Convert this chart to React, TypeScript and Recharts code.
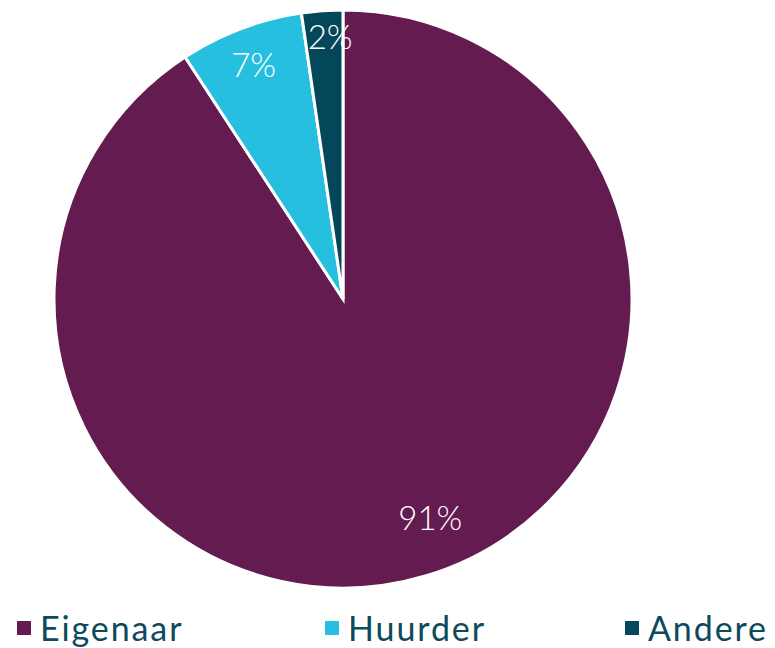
import React from 'react';
import { PieChart, Pie, Cell, Legend } from 'recharts';

const categories = ['Eigenaar', 'Huurder', 'Andere'];
const shares = [90.8, 6.9, 2.3];
const labels = ['91%', '7%', '2%'];
const colors = ['#641b50', '#27bfdf', '#05475a'];

const data = categories.map((name, i) => ({ name, value: shares[i], label: labels[i] }));

// how far inside the rim each label sits, plus small nudges
const labelInset = [60, 39, 28];
const labelNudge = [
  [22, -2],
  [-1, -1],
  [6, -3],
];
const RAD = Math.PI / 180;

const renderLabel = (props: any) => {
  const { cx, cy, midAngle, outerRadius, index } = props;
  const r = outerRadius - labelInset[index];
  const x = cx + r * Math.cos(-midAngle * RAD) + labelNudge[index][0];
  const y = cy + r * Math.sin(-midAngle * RAD) + labelNudge[index][1];
  return (
    <text
      x={x}
      y={y}
      fill="#fff"
      textAnchor="middle"
      dominantBaseline="central"
      fontSize={33}
      fontWeight={300}
      fontFamily="Lato, sans-serif"
    >
      {labels[index]}
    </text>
  );
};

const legendX = [17, 325, 625];

const renderLegend = () => (
  <div style={{ position: 'relative', height: 40 }}>
    {categories.map((c, i) => (
      <div
        key={c}
        style={{
          position: 'absolute',
          left: legendX[i],
          top: 0,
          display: 'flex',
          alignItems: 'center',
          fontFamily: 'Lato, sans-serif',
          fontSize: 34,
          letterSpacing: 1.9,
          color: '#0c4a5c',
          lineHeight: '40px',
        }}
      >
        <span style={{ width: 14, height: 14, background: colors[i], marginRight: 9, display: 'inline-block' }} />
        {c}
      </div>
    ))}
  </div>
);

export default function App() {
  return (
    <div style={{ position: 'absolute', left: 0, top: 0, width: 775, height: 648, background: '#fff' }}>
      <PieChart width={775} height={648} margin={{ top: 0, right: 0, bottom: 0, left: 0 }}>
        <Pie
          data={data}
          dataKey="value"
          nameKey="name"
          cx={343}
          cy={299}
          outerRadius={289}
          startAngle={90}
          endAngle={-270}
          stroke="#fff"
          strokeWidth={3}
          label={renderLabel}
          labelLine={false}
          isAnimationActive={false}
        >
          {data.map((d, i) => (
            <Cell key={d.name} fill={colors[i]} />
          ))}
        </Pie>
        <Legend
          verticalAlign="bottom"
          content={renderLegend}
          wrapperStyle={{ left: 0, top: 608, width: 775, height: 40 }}
        />
      </PieChart>
    </div>
  );
}
